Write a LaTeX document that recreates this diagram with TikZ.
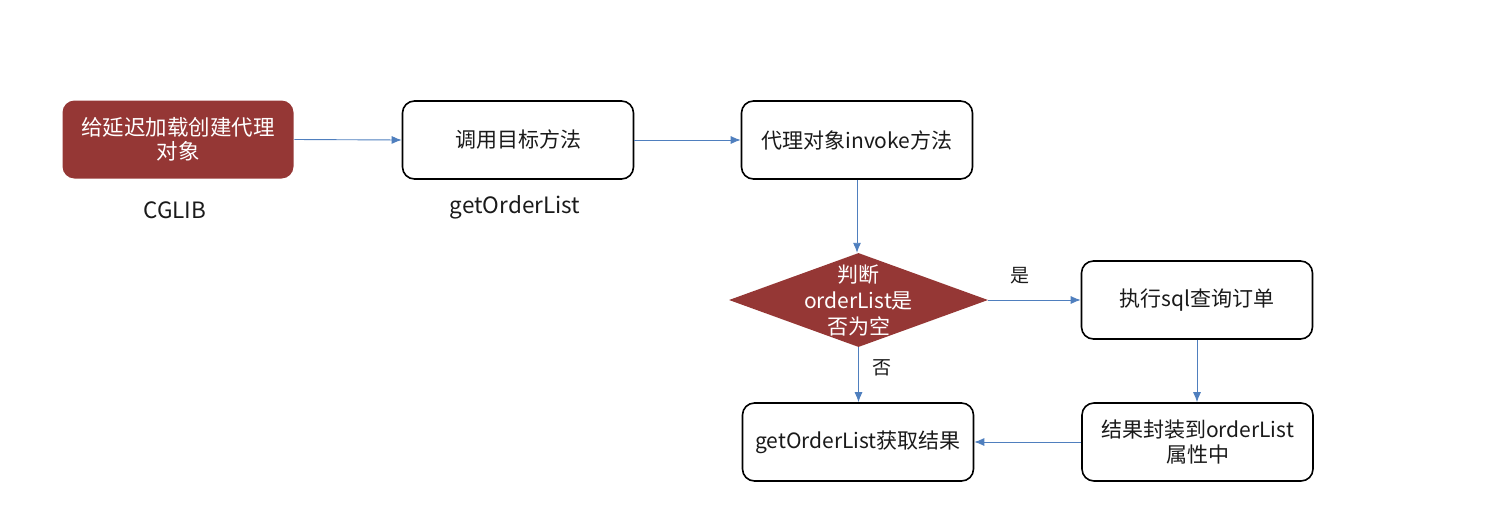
\documentclass[tikz,border=0pt]{standalone}
\usepackage{fontspec}
\setmainfont{Noto Sans CJK SC}
\usetikzlibrary{shapes.geometric,arrows.meta}
\definecolor{boxred}{HTML}{953735}
\definecolor{linkblue}{HTML}{4F7FBE}
\definecolor{txt}{HTML}{1A1A1A}
\tikzset{
  box/.style={draw=black, line width=1.6pt, rounded corners=12pt, fill=white,
    minimum width=231pt, minimum height=78pt, inner sep=0pt, align=center,
    font=\fontsize{21}{25}\selectfont, text=txt},
  redbox/.style={box, draw=none, fill=boxred, text=white, font=\fontsize{21.5}{24}\selectfont},
  decision/.style={diamond, fill=boxred, draw=none, inner sep=0pt,
    minimum width=259pt, minimum height=94pt},
  dtext/.style={align=center, text=white, font=\fontsize{21}{26}\selectfont},
  lbl/.style={text=txt, font=\fontsize{22.5}{24}\selectfont, inner sep=0pt},
  yn/.style={text=txt, font=\fontsize{19}{24}\selectfont, inner sep=0pt},
  link/.style={draw=linkblue, line width=0.9pt, -{Latex[length=10pt,width=8pt]}}
}
\begin{document}
\begin{tikzpicture}[x=1pt,y=-1pt]
\useasboundingbox (0,0) rectangle (1486,520);
\node[redbox] (b1) at (178,139.5) {给延迟加载创建代理\\对象};
\node[box] (b2) at (518,140) {调用目标方法};
\node[box] (b3) at (857,140) {代理对象invoke方法};
\node[decision] (d) at (858.5,300) {};
\node[dtext] (dt) at (d.center) {判断\\orderList是\\否为空};
\node[box] (b4) at (1197,300) {执行sql查询订单};
\node[box] (b5) at (1197.5,442) {结果封装到orderList\\属性中};
\node[box] (b6) at (858,442) {getOrderList获取结果};
\node[lbl] (l1) at (175,210) {CGLIB};
\node[lbl] (l2) at (515,207) {getOrderList};
\node[yn] (yes) at (1020,276) {是};
\node[yn] (no) at (882,368) {否};
\draw[link] (b1.east) -- (b2.west);
\draw[link] (b2.east) -- (b3.west);
\draw[link] (b3.south) -- (b3.south |- d.north);
\draw[link] (d.east) -- (b4.west);
\draw[link] (d.south) -- (d.south |- b6.north);
\draw[link] (b4.south) -- (b4.south |- b5.north);
\draw[link] (b5.west) -- (b6.east);
\end{tikzpicture}
\end{document}
